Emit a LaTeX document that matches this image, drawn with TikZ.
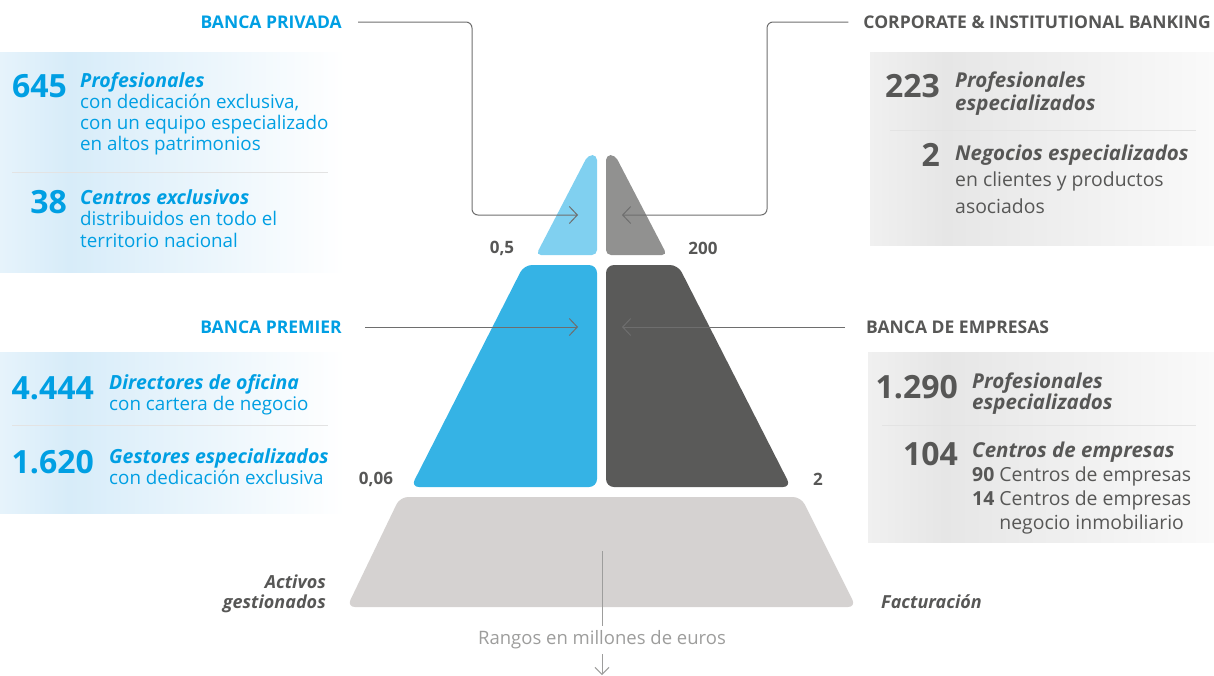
\documentclass[tikz,border=0pt]{standalone}
\usepackage{fontspec}
\setmainfont{Open Sans}
\usetikzlibrary{arrows.meta}
\definecolor{bpblue}{HTML}{009FE3}
\definecolor{txtdark}{HTML}{575756}
\definecolor{linegray}{HTML}{6E6E6E}
\definecolor{notegray}{HTML}{9D9D9C}
\definecolor{sepgray}{HTML}{E3E3E3}
\definecolor{tipblue}{HTML}{80D0F0}
\definecolor{tipgray}{HTML}{919190}
\definecolor{midblue}{HTML}{35B3E5}
\definecolor{middark}{HTML}{5A5A59}
\definecolor{basegray}{HTML}{D5D2D1}
\definecolor{bgblueA}{HTML}{E6F3FB}
\definecolor{bgblueB}{HTML}{D7ECF9}
\definecolor{bggrayA}{HTML}{F0F0F0}
\definecolor{bggrayB}{HTML}{E6E6E6}
\pgfdeclarehorizontalshading{bluefade}{100bp}{color(0bp)=(bgblueA); color(25bp)=(bgblueA); color(35bp)=(bgblueB); color(75bp)=(white); color(100bp)=(white)}
\pgfdeclarehorizontalshading{grayfade}{100bp}{color(0bp)=(bggrayA); color(25bp)=(bggrayA); color(36bp)=(bggrayB); color(75bp)=(white!98!black); color(100bp)=(white!98!black)}
\newcommand{\ttlleft}[1]{{\bfseries\itshape\fontsize{19.5}{21}\selectfont #1}}
\newcommand{\ttlright}[1]{{\bfseries\itshape\fontsize{20.5}{22}\selectfont #1}}
\begin{document}
\begin{tikzpicture}[x=1pt,y=-1pt,
    head/.style = {font=\bfseries\fontsize{17.5}{20}\selectfont, inner sep=0pt},
    bignum/.style = {font=\bfseries\fontsize{32}{36}\selectfont, anchor=base east, inner sep=0pt},
    descleft/.style = {font=\fontsize{18.8}{21}\selectfont, align=left, anchor=base west, inner sep=0pt, text=bpblue},
    descright/.style = {font=\fontsize{19.4}{#1}\selectfont, align=left, anchor=base west, inner sep=0pt, text=txtdark},
    rangelabel/.style = {font=\bfseries\fontsize{17}{20}\selectfont, text=txtdark, inner sep=0pt},
    axislabel/.style = {font=\bfseries\itshape\fontsize{18}{20}\selectfont, text=txtdark, inner sep=0pt},
    pointer/.style = {draw=linegray, line width=1pt, rounded corners=6pt, -{Straight Barb[length=8pt,width=17pt]}},
    sepline/.style = {draw=sepgray, line width=1pt}]
\useasboundingbox (0,0) rectangle (1214,675);

\shade[shading=bluefade] (0,52) rectangle (345,272);
\shade[shading=bluefade] (0,352) rectangle (345,513);
\shade[shading=grayfade] (870,52) rectangle (1214,245);
\shade[shading=grayfade] (868,352) rectangle (1214,542);
\draw[sepline] (12,172) -- (328,172);
\draw[sepline] (12,425) -- (328,425);
\draw[sepline] (890,130) -- (1196,130);
\draw[sepline] (882,425) -- (1196,425);

\fill[tipblue, rounded corners=5pt] (588,155) -- (597,155) -- (597,255) -- (536,255) -- cycle;
\fill[tipgray, rounded corners=5pt] (606,155) -- (615,155) -- (667,255) -- (606,255) -- cycle;
\fill[midblue, rounded corners=8pt] (524,265) -- (597,265) -- (597,487) -- (411,487) -- cycle;
\fill[middark, rounded corners=8pt] (606,265) -- (678,265) -- (791,487) -- (606,487) -- cycle;
\fill[basegray, rounded corners=8pt] (400,497) -- (801,497) -- (856,607) -- (347,607) -- cycle;

\node[head, text=bpblue, anchor=east] (privada) at (342,22) {BANCA PRIVADA};
\node[head, text=txtdark, anchor=east] (cib) at (1211,22) {CORPORATE \& INSTITUTIONAL BANKING};
\node[head, text=bpblue, anchor=east] (premier) at (342,327) {BANCA PREMIER};
\node[head, text=txtdark, anchor=west] (empresas) at (866,327) {BANCA DE EMPRESAS};
\coordinate (privadaend) at (578,215);
\coordinate (cibend) at (622,215);
\coordinate (premierend) at (578,327);
\coordinate (empresasend) at (622,327);
\draw[pointer] ([xshift=16pt]privada.east) -- (472,22) -- (472,215) -- (privadaend);
\draw[pointer] ([xshift=-15pt]cib.west) -- (767,22) -- (767,215) -- (cibend);
\draw[pointer] ([xshift=23pt]premier.east) -- (premierend);
\draw[pointer] ([xshift=-21pt]empresas.west) -- (empresasend);

\node[rangelabel] (r05) at (502,248) {0,5};
\node[rangelabel] (r200) at (703,248) {200};
\node[rangelabel] (r006) at (376,479) {0,06};
\node[rangelabel] (r2) at (818,479) {2};
\node[axislabel, align=right, anchor=base east] (activos) at (326,608) {Activos\\gestionados};
\node[axislabel, anchor=base west] (factur) at (881,608) {Facturación};

\coordinate (basemid) at (602,551);
\node[font=\fontsize{18.5}{20}\selectfont, text=notegray, inner sep=5pt] (rangos) at (602,640) {Rangos en millones de euros};
\coordinate (rangosend) at (602,675);
\draw[notegray, line width=1pt] (basemid) -- (rangos.north);
\draw[notegray, line width=1pt, -{Straight Barb[length=7pt,width=14pt]}] (rangos.south) -- (rangosend);

\node[bignum, text=bpblue] (n645) at (67,97) {645};
\node[descleft] (t645) at (80,150) {\ttlleft{Profesionales}\\con dedicación exclusiva,\\con un equipo especializado\\en altos patrimonios};
\node[bignum, text=bpblue] (n38) at (67,213) {38};
\node[descleft, font=\fontsize{18.8}{21.5}\selectfont] (t38) at (80,247) {\ttlleft{Centros exclusivos}\\distribuidos en todo el\\territorio nacional};
\node[bignum, text=bpblue] (n4444) at (94,399) {4.444};
\node[descleft] (t4444) at (109,410) {\ttlleft{Directores de oficina}\\con cartera de negocio};
\node[bignum, text=bpblue] (n1620) at (94,473) {1.620};
\node[descleft] (t1620) at (109,484) {\ttlleft{Gestores especializados}\\con dedicación exclusiva};

\node[bignum, text=txtdark] (n223) at (940,97) {223};
\node[descright=23] (t223) at (955,110) {\ttlright{Profesionales}\\\ttlright{especializados}};
\node[bignum, text=txtdark] (n2) at (940,166) {2};
\node[descright=26.5] (t2) at (955,213) {\ttlright{Negocios especializados}\\en clientes y productos\\asociados};
\node[bignum, text=txtdark] (n1290) at (958,398) {1.290};
\node[descright=21] (t1290) at (972,409) {\ttlright{Profesionales}\\\ttlright{especializados}};
\node[bignum, text=txtdark] (n104) at (958,465) {104};
\node[descright=24] (t104) at (972,529) {\ttlright{Centros de empresas}\\\textbf{90} Centros de empresas\\\textbf{14} Centros de empresas\\\hphantom{\textbf{14} }negocio inmobiliario};
\end{tikzpicture}
\end{document}
